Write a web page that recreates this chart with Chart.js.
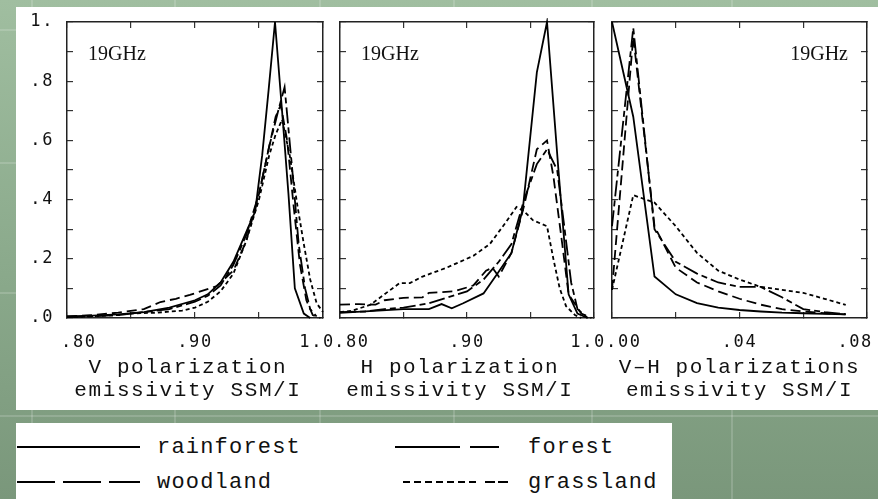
<!DOCTYPE html>
<html>
<head>
<meta charset="utf-8">
<script src="https://cdn.jsdelivr.net/npm/chart.js@4"></script>
<style>
  html, body { margin: 0; padding: 0; }
  body {
    width: 878px; height: 499px; position: relative; overflow: hidden;
    background: linear-gradient(#a0bea0, #8aa98b 55%, #7a977b);
  }
  .gl { position: absolute; background: rgba(255,255,255,0.16); }
  .sheet { position: absolute; left: 16px; top: 7px; width: 862px; height: 403px; background: #fff; }
  canvas { position: absolute; top: 7px; }
  #legend { position: absolute; left: 16px; top: 423px; width: 656px; height: 76px; background: #fff; }
  #legend svg { position: absolute; left: 0; top: 0; }
  #legend span {
    position: absolute; font-family: "Liberation Mono", monospace; font-size: 22px;
    letter-spacing: 1.2px; color: #111; line-height: 22px;
  }
</style>
</head>
<body>
<div class="gl" style="left:0;top:29px;width:878px;height:2px"></div>
<div class="gl" style="left:0;top:162px;width:878px;height:2px"></div>
<div class="gl" style="left:0;top:292px;width:878px;height:2px"></div>
<div class="gl" style="left:0;top:415px;width:878px;height:2px"></div>
<div class="gl" style="left:31px;top:0;width:2px;height:499px"></div>
<div class="gl" style="left:174px;top:0;width:2px;height:499px"></div>
<div class="gl" style="left:319px;top:0;width:2px;height:499px"></div>
<div class="gl" style="left:453px;top:0;width:2px;height:499px"></div>
<div class="gl" style="left:591px;top:0;width:2px;height:499px"></div>
<div class="gl" style="left:731px;top:0;width:2px;height:499px"></div>
<div class="sheet"></div>
<canvas id="panelV" width="330" height="403" style="left:16px"></canvas>
<canvas id="panelH" width="294" height="403" style="left:320px"></canvas>
<canvas id="panelVH" width="286" height="403" style="left:592px"></canvas>

<div id="legend">
  <svg width="656" height="76">
    <g stroke="#000" stroke-width="2.2" fill="none">
      <line x1="1" y1="24" x2="124" y2="24"/>
      <line x1="1" y1="59" x2="124" y2="59" stroke-dasharray="38 8"/>
      <line x1="379" y1="24" x2="483" y2="24" stroke-dasharray="65 10 29"/>
      <line x1="387" y1="59" x2="492" y2="59" stroke-dasharray="7 4 7 4 7 4 7 4 7 4 7 4 7 9 10 3 10"/>
    </g>
  </svg>
  <span style="left:141px;top:14px">rainforest</span>
  <span style="left:141px;top:49px">woodland</span>
  <span style="left:512px;top:14px">forest</span>
  <span style="left:512px;top:49px">grassland</span>
</div>

<script>
// series names, in legend order
const seriesNames = ['rainforest', 'forest', 'woodland', 'grassland'];

// y axis (relative frequency)
const yTickValues = [0, 0.2, 0.4, 0.6, 0.8, 1.0];
const yTickLabels = ['.0', '.2', '.4', '.6', '.8', '1.'];

// V polarization emissivity, [emissivity, frequency]
const vRainforest = [[0.80,0.005],[0.82,0.008],[0.84,0.012],[0.86,0.02],[0.88,0.035],[0.90,0.06],[0.91,0.08],[0.92,0.12],[0.93,0.19],[0.94,0.29],[0.947,0.36],[0.9525,0.55],[0.9575,0.77],[0.9625,1.0],[0.968,0.7],[0.973,0.42],[0.978,0.1],[0.985,0.015],[0.99,0.0]];
const vForest = [[0.80,0.003],[0.82,0.006],[0.84,0.01],[0.86,0.02],[0.88,0.03],[0.90,0.055],[0.91,0.075],[0.92,0.11],[0.93,0.18],[0.94,0.28],[0.95,0.42],[0.958,0.58],[0.965,0.7],[0.970,0.78],[0.976,0.5],[0.981,0.25],[0.986,0.1],[0.99,0.03],[0.995,0.005]];
const vWoodland = [[0.80,0.005],[0.82,0.01],[0.84,0.018],[0.86,0.03],[0.873,0.054],[0.885,0.065],[0.896,0.078],[0.917,0.108],[0.93,0.16],[0.94,0.26],[0.95,0.42],[0.958,0.58],[0.963,0.68],[0.967,0.72],[0.972,0.6],[0.977,0.38],[0.982,0.18],[0.987,0.06],[0.992,0.01],[0.998,0.0]];
const vGrassland = [[0.80,0.003],[0.82,0.006],[0.84,0.01],[0.85,0.015],[0.87,0.018],[0.89,0.025],[0.90,0.035],[0.91,0.055],[0.92,0.09],[0.93,0.15],[0.94,0.26],[0.95,0.4],[0.958,0.55],[0.963,0.62],[0.968,0.67],[0.974,0.55],[0.98,0.38],[0.985,0.25],[0.99,0.13],[0.995,0.05],[1.0,0.02]];

// H polarization emissivity
const hRainforest = [[0.80,0.017],[0.83,0.025],[0.85,0.03],[0.87,0.03],[0.88,0.047],[0.888,0.033],[0.897,0.05],[0.913,0.083],[0.924,0.15],[0.935,0.22],[0.944,0.37],[0.955,0.83],[0.963,1.0],[0.972,0.5],[0.98,0.08],[0.987,0.015],[0.995,0.0]];
const hForest = [[0.80,0.02],[0.82,0.022],[0.835,0.03],[0.85,0.035],[0.87,0.05],[0.885,0.07],[0.90,0.09],[0.913,0.13],[0.925,0.19],[0.935,0.25],[0.945,0.4],[0.955,0.52],[0.963,0.57],[0.971,0.5],[0.976,0.33],[0.982,0.12],[0.987,0.03],[0.995,0.0]];
const hWoodland = [[0.80,0.045],[0.815,0.047],[0.828,0.045],[0.835,0.06],[0.85,0.068],[0.865,0.07],[0.87,0.085],[0.89,0.09],[0.905,0.11],[0.915,0.16],[0.92,0.17],[0.925,0.14],[0.935,0.22],[0.945,0.38],[0.955,0.57],[0.963,0.6],[0.968,0.48],[0.975,0.25],[0.98,0.08],[0.99,0.015],[0.998,0.0]];
const hGrassland = [[0.80,0.02],[0.81,0.025],[0.824,0.045],[0.835,0.08],[0.847,0.118],[0.855,0.118],[0.865,0.14],[0.884,0.17],[0.905,0.21],[0.918,0.25],[0.93,0.32],[0.939,0.375],[0.945,0.36],[0.952,0.33],[0.963,0.31],[0.968,0.2],[0.973,0.1],[0.978,0.04],[0.985,0.01],[0.99,0.0]];

// V-H polarization difference, 12 bins
const vhBins = [0.0, 0.00667, 0.01333, 0.02, 0.02667, 0.03333, 0.04, 0.04667, 0.05333, 0.06, 0.06667, 0.07333];
const vhRainforest = [1.0, 0.68, 0.14, 0.08, 0.05, 0.035, 0.027, 0.022, 0.018, 0.016, 0.014, 0.012];
const vhForest = [0.31, 0.98, 0.30, 0.19, 0.15, 0.12, 0.105, 0.105, 0.07, 0.03, 0.02, 0.013];
const vhWoodland = [0.095, 0.95, 0.31, 0.17, 0.12, 0.09, 0.065, 0.045, 0.03, 0.022, 0.016, 0.012];
const vhGrassland = [0.095, 0.415, 0.39, 0.31, 0.22, 0.16, 0.13, 0.105, 0.095, 0.085, 0.065, 0.044];

// x axis ticks
const emisTickValues = [0.80, 0.90, 1.0];
const emisTickLabels = ['.80', '.90', '1.0'];
const diffTickValues = [0.00, 0.04, 0.08];
const diffTickLabels = ['.00', '.04', '.08'];

const dashes = { rainforest: [], forest: [16, 4, 6, 4], woodland: [10, 5], grassland: [4, 3] };

const letterSpacing = {
  id: 'letterSpacing',
  beforeDraw(chart) { chart.ctx.letterSpacing = '1.6px'; }
};

const freqLabel = {
  id: 'freqLabel',
  afterDraw(chart, args, opts) {
    const { ctx, chartArea } = chart;
    ctx.save();
    ctx.letterSpacing = '0px';
    ctx.font = '20px "Liberation Serif"';
    ctx.fillStyle = '#111';
    ctx.textBaseline = 'alphabetic';
    if (opts.side === 'right') {
      ctx.textAlign = 'right';
      ctx.fillText(opts.text, chartArea.right - 19, chartArea.top + 38);
    } else {
      ctx.textAlign = 'left';
      ctx.fillText(opts.text, chartArea.left + 21, chartArea.top + 38);
    }
    ctx.restore();
  }
};

function toPoints(pairs) {
  return pairs.map(p => ({ x: p[0], y: p[1] }));
}

function makeDatasets(list) {
  return list.map((pts, i) => ({
    label: seriesNames[i],
    data: pts,
    borderColor: '#000',
    borderWidth: 1.8,
    borderDash: dashes[seriesNames[i]],
    pointRadius: 0,
    tension: 0,
    fill: false,
    clip: 4
  }));
}

function tickLabel(values, labels) {
  return function (v) {
    const i = values.findIndex(t => Math.abs(t - v) < 1e-6);
    if (i < 0) return '';
    if (i === 0) return '  ' + labels[i];
    if (i === values.length - 1) return labels[i] + (labels[i] === '1.0' ? ' ' : '  ');
    return labels[i];
  };
}

function buildPanel(id, cfg) {
  const grid = { drawOnChartArea: false, tickLength: -6, color: '#333', lineWidth: 1.2 };
  const border = { display: true, color: '#222', width: 1.5 };
  const tickFont = { family: 'DejaVu Sans Mono', size: 17 };
  new Chart(document.getElementById(id), {
    type: 'line',
    data: { datasets: makeDatasets(cfg.series) },
    options: {
      responsive: false,
      animation: false,
      layout: { autoPadding: false, padding: 0 },
      plugins: {
        legend: { display: false },
        tooltip: { enabled: false },
        freqLabel: { text: '19GHz', side: cfg.labelSide }
      },
      scales: {
        x: {
          type: 'linear', position: 'bottom', min: cfg.xMin, max: cfg.xMax,
          ticks: { stepSize: cfg.xStep, autoSkip: false, maxRotation: 0, padding: 20,
                   font: tickFont, color: '#111', callback: tickLabel(cfg.xTickValues, cfg.xTickLabels) },
          grid: grid, border: border,
          title: { display: true, text: cfg.title, color: '#111',
                   font: { family: 'Liberation Mono', size: 21, lineHeight: 1.1 },
                   padding: { top: 0, bottom: 8 } },
          afterFit(s) { s.height = 92; s.paddingLeft = 0; s.paddingRight = 0; }
        },
        xTop: {
          type: 'linear', position: 'top', min: cfg.xMin, max: cfg.xMax,
          ticks: { display: false, stepSize: cfg.xStep, autoSkip: false },
          grid: grid, border: border,
          afterFit(s) { s.height = 15; s.paddingLeft = 0; s.paddingRight = 0; }
        },
        y: {
          type: 'linear', position: 'left', min: 0, max: 1,
          ticks: { display: cfg.showY, stepSize: 0.1, autoSkip: false, padding: 19,
                   font: tickFont, color: '#111',
                   callback: v => {
                     const i = yTickValues.findIndex(t => Math.abs(t - v) < 1e-6);
                     return i < 0 ? '' : yTickLabels[i];
                   } },
          grid: grid, border: border,
          afterFit(s) { s.width = cfg.leftW; s.paddingTop = 0; s.paddingBottom = 0; }
        },
        yRight: {
          type: 'linear', position: 'right', min: 0, max: 1,
          ticks: { display: false, stepSize: 0.1, autoSkip: false },
          grid: grid, border: border,
          afterFit(s) { s.width = cfg.rightW; s.paddingTop = 0; s.paddingBottom = 0; }
        }
      }
    },
    plugins: [letterSpacing, freqLabel]
  });
}

buildPanel('panelV', {
  series: [vRainforest, vForest, vWoodland, vGrassland].map(toPoints),
  xMin: 0.8, xMax: 1.0, xStep: 0.05,
  xTickValues: emisTickValues, xTickLabels: emisTickLabels,
  title: ['V polarization ', 'emissivity SSM/I '],
  showY: true, leftW: 51, rightW: 23, labelSide: 'left'
});

buildPanel('panelH', {
  series: [hRainforest, hForest, hWoodland, hGrassland].map(toPoints),
  xMin: 0.8, xMax: 1.0, xStep: 0.05,
  xTickValues: emisTickValues, xTickLabels: emisTickLabels,
  title: ['H polarization ', 'emissivity SSM/I '],
  showY: false, leftW: 20, rightW: 20, labelSide: 'left'
});

buildPanel('panelVH', {
  series: [vhRainforest, vhForest, vhWoodland, vhGrassland].map(vals => vals.map((v, i) => ({ x: vhBins[i], y: v }))),
  xMin: 0, xMax: 0.08, xStep: 0.02,
  xTickValues: diffTickValues, xTickLabels: diffTickLabels,
  title: ['V\u2013H polarizations', 'emissivity SSM/I'],
  showY: false, leftW: 20, rightW: 11, labelSide: 'right'
});
</script>
</body>
</html>
